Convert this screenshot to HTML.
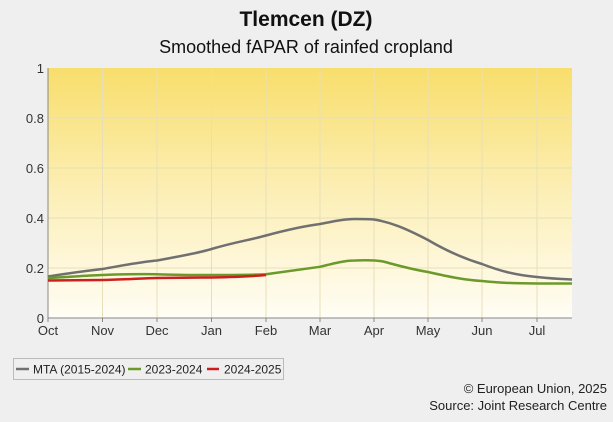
<!DOCTYPE html>
<html><head><meta charset="utf-8"><style>
html,body{margin:0;padding:0;background:#efefef;}
body{width:613px;height:417px;overflow:hidden;font-family:"Liberation Sans",sans-serif;}
</style></head><body>
<svg width="613" height="417" viewBox="0 0 613 417" xmlns="http://www.w3.org/2000/svg" font-family="Liberation Sans, sans-serif">
<defs><linearGradient id="g" x1="0" y1="0" x2="0" y2="1">
<stop offset="0" stop-color="#f8de6c"/><stop offset="0.5" stop-color="#fcefb6"/><stop offset="1" stop-color="#fffdf5"/></linearGradient></defs>
<rect width="613" height="417" fill="#efefef"/>
<text x="306" y="26" text-anchor="middle" font-size="21" font-weight="bold" fill="#111">Tlemcen (DZ)</text>
<text x="306" y="53" text-anchor="middle" font-size="18" fill="#111">Smoothed fAPAR of rainfed cropland</text>
<rect x="48" y="68" width="524" height="250" fill="url(#g)"/>
<g stroke="#e8dfb8" stroke-width="1">
<line x1="48" y1="118" x2="572" y2="118"/><line x1="48" y1="168" x2="572" y2="168"/><line x1="48" y1="218" x2="572" y2="218"/><line x1="48" y1="268" x2="572" y2="268"/>
<line x1="102.5" y1="68" x2="102.5" y2="318"/><line x1="157" y1="68" x2="157" y2="318"/><line x1="211.5" y1="68" x2="211.5" y2="318"/><line x1="266" y1="68" x2="266" y2="318"/><line x1="320" y1="68" x2="320" y2="318"/><line x1="374" y1="68" x2="374" y2="318"/><line x1="428" y1="68" x2="428" y2="318"/><line x1="482" y1="68" x2="482" y2="318"/><line x1="537" y1="68" x2="537" y2="318"/>
</g>
<g stroke="#888" stroke-width="1">
<line x1="48" y1="68" x2="48" y2="318"/><line x1="48" y1="318" x2="572" y2="318"/>
<line x1="48" y1="318" x2="48" y2="322"/><line x1="102.5" y1="318" x2="102.5" y2="322"/><line x1="157" y1="318" x2="157" y2="322"/><line x1="211.5" y1="318" x2="211.5" y2="322"/><line x1="266" y1="318" x2="266" y2="322"/><line x1="320" y1="318" x2="320" y2="322"/><line x1="374" y1="318" x2="374" y2="322"/><line x1="428" y1="318" x2="428" y2="322"/><line x1="482" y1="318" x2="482" y2="322"/><line x1="537" y1="318" x2="537" y2="322"/>
</g>
<g font-size="13" fill="#333" text-anchor="end">
<text x="44" y="73">1</text><text x="44" y="123">0.8</text><text x="44" y="173">0.6</text><text x="44" y="223">0.4</text><text x="44" y="273">0.2</text><text x="44" y="323">0</text>
</g>
<g font-size="13" fill="#333" text-anchor="middle">
<text x="48" y="335">Oct</text><text x="102.5" y="335">Nov</text><text x="157" y="335">Dec</text><text x="211.5" y="335">Jan</text><text x="266" y="335">Feb</text><text x="320" y="335">Mar</text><text x="374" y="335">Apr</text><text x="428" y="335">May</text><text x="482" y="335">Jun</text><text x="537" y="335">Jul</text>
</g>
<g fill="none" stroke-width="2.5" stroke-linejoin="round">
<path stroke="#707070" d="M48,276.5 C70,273 85,271 102.5,269 C125,265 140,262 157,260.5 C180,256 195,254 211.5,249 C235,242 250,240 266,235.5 C290,229 305,226 320,224 C335,221 345,219 355,219 C365,219 370,219 374,219.5 C390,222 405,228 428,240 C445,250 462,258 482,264 C500,271 515,275 537,277 C550,278.5 560,279 572,279.5"/>
<path stroke="#6b9a2a" d="M48,278 C70,277 85,275.5 102.5,275 C125,274 140,274 157,274.2 C180,275 195,275 211.5,275 C235,275 250,275 266,274.2 C290,271 305,269 320,266.8 C335,263 345,260.5 355,260.5 C368,260 378,260 385,262 C400,266 410,269 428,272 C450,277 465,280 482,281 C500,283 515,283.5 537,283.5 L572,283.5"/>
<path stroke="#cc1f1f" d="M48,280.5 L102.5,280 C125,279.5 140,278.5 157,278 C180,277.8 195,277.5 211.5,277.5 C235,277 250,276.5 266,275"/>
</g>
<rect x="13.5" y="358.5" width="270" height="21" fill="#efefef" stroke="#bbb"/>
<g stroke-width="2.5"><line x1="16" y1="369" x2="29" y2="369" stroke="#707070"/><line x1="128" y1="369" x2="141" y2="369" stroke="#6b9a2a"/><line x1="207" y1="369" x2="219" y2="369" stroke="#cc1f1f"/></g>
<g font-size="12" fill="#222"><text x="33" y="373.5">MTA (2015-2024)</text><text x="145" y="373.5">2023-2024</text><text x="224" y="373.5">2024-2025</text></g>
<g font-size="13" fill="#222" text-anchor="end"><text x="607" y="393">© European Union, 2025</text><text x="607" y="410">Source: Joint Research Centre</text></g>
</svg>
</body></html>
